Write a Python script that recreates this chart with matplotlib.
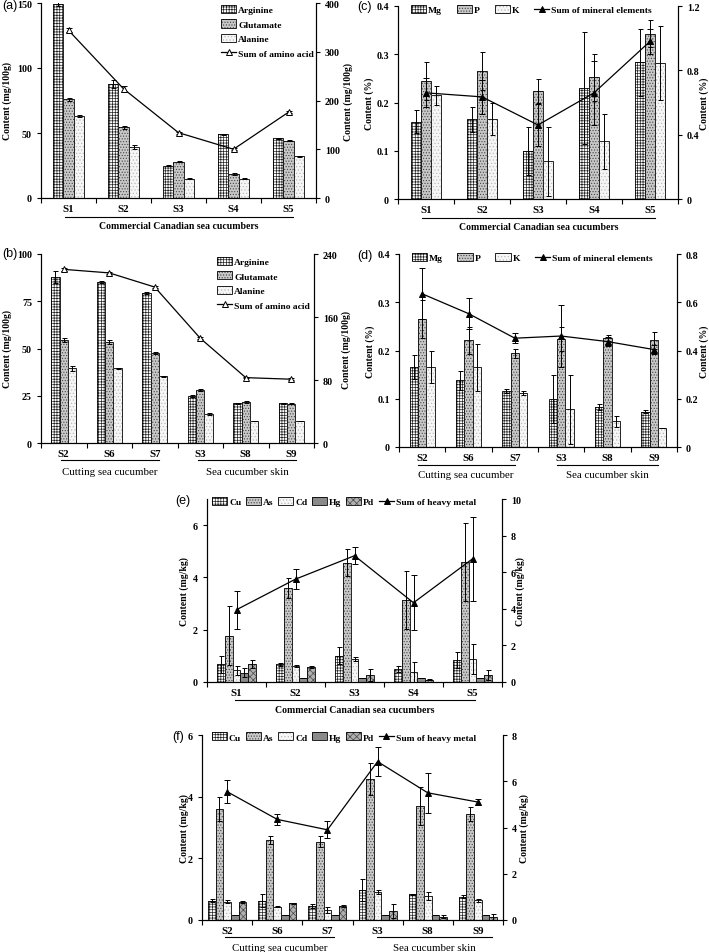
import matplotlib
matplotlib.use("Agg")
import matplotlib.pyplot as plt
from matplotlib.patches import Patch
from matplotlib.lines import Line2D
from matplotlib.legend_handler import HandlerTuple
import numpy as np

plt.rcParams['font.family'] = ['Liberation Serif', 'DejaVu Serif']
plt.rcParams['font.weight'] = 'bold'
plt.rcParams['axes.labelweight'] = 'bold'
plt.rcParams['hatch.linewidth'] = 0.5
plt.rcParams['font.size'] = 7.2

# ---- data: amino acids (mg/100g) ----
samples_a = ['S1', 'S2', 'S3', 'S4', 'S5']
arg_a = [149, 87.5, 25, 49, 46]
arg_a_err = [1.5, 3.2, 0.6, 0.6, 0.3]
glu_a = [76, 54.5, 28, 18.5, 44]
glu_a_err = [1.0, 1.2, 0.4, 0.5, 0.5]
ala_a = [63, 39.5, 15, 15, 32]
ala_a_err = [1.0, 1.5, 0.4, 0.3, 0.2]
sum_a = [344, 224, 134, 100, 176]
sum_a_err = [4, 6, 2, 2, 2]

samples_b = ['S2', 'S6', 'S7', 'S3', 'S8', 'S9']
arg_b = [87.7, 85.2, 79.6, 25, 21, 21]
arg_b_err = [3.2, 0.5, 0.5, 0.6, 0.3, 0.2]
glu_b = [54.5, 53.5, 47.5, 28, 21.5, 20.8]
glu_b_err = [1.1, 1.2, 0.4, 0.4, 0.5, 0.2]
ala_b = [39.5, 39.5, 35.2, 15.3, 11.8, 11.5]
ala_b_err = [1.5, 0.3, 0.2, 0.4, 0.1, 0.1]
sum_b = [220.5, 216, 198, 133, 83, 81]
sum_b_err = [1.5, 1.5, 1, 1, 1, 1]

# ---- data: minerals (%) ----
mg_c = [0.16, 0.165, 0.1, 0.23, 0.283]
mg_c_err = [0.024, 0.026, 0.05, 0.117, 0.07]
p_c = [0.245, 0.265, 0.223, 0.252, 0.342]
p_c_err = [0.039, 0.039, 0.025, 0.048, 0.028]
k_c = [0.215, 0.165, 0.078, 0.12, 0.282]
k_c_err = [0.02, 0.033, 0.072, 0.057, 0.076]
sum_c = [0.66, 0.635, 0.46, 0.66, 0.98]
sum_c_err = [0.09, 0.105, 0.13, 0.2, 0.08]

mg_d = [0.165, 0.138, 0.116, 0.1, 0.083, 0.073]
mg_d_err = [0.025, 0.02, 0.004, 0.05, 0.007, 0.003]
p_d = [0.265, 0.221, 0.194, 0.223, 0.226, 0.221]
p_d_err = [0.04, 0.028, 0.01, 0.025, 0.006, 0.017]
k_d = [0.165, 0.165, 0.112, 0.078, 0.053, 0.039]
k_d_err = [0.033, 0.048, 0.004, 0.072, 0.011, 0.0]
sum_d = [0.635, 0.553, 0.451, 0.46, 0.437, 0.404]
sum_d_err = [0.105, 0.065, 0.02, 0.13, 0.02, 0.02]

# ---- data: heavy metals (mg/kg) ----
cu_e = [0.67, 0.67, 1.0, 0.5, 0.83]
cu_e_err = [0.34, 0.05, 0.33, 0.1, 0.3]
as_e = [1.77, 3.6, 4.57, 3.14, 4.58]
as_e_err = [1.13, 0.38, 0.53, 1.1, 1.5]
cd_e = [0.44, 0.6, 0.88, 0.38, 0.88]
cd_e_err = [0.17, 0.04, 0.07, 0.39, 0.58]
hg_e = [0.35, 0.17, 0.16, 0.15, 0.15]
hg_e_err = [0.17, 0.0, 0.0, 0.0, 0.0]
pd_e = [0.69, 0.58, 0.28, 0.08, 0.27]
pd_e_err = [0.17, 0.03, 0.23, 0.02, 0.2]
sum_e = [3.95, 5.62, 6.9, 4.33, 6.73]
sum_e_err = [1.05, 0.55, 0.45, 1.5, 2.3]

cu_f = [0.63, 0.63, 0.45, 0.98, 0.83, 0.76]
cu_f_err = [0.05, 0.22, 0.07, 0.35, 0.02, 0.04]
as_f = [3.6, 2.6, 2.54, 4.57, 3.7, 3.43]
as_f_err = [0.4, 0.13, 0.17, 0.53, 0.62, 0.22]
cd_f = [0.6, 0.43, 0.33, 0.9, 0.77, 0.64]
cd_f_err = [0.05, 0.02, 0.1, 0.07, 0.13, 0.04]
hg_f = [0.17, 0.17, 0.17, 0.16, 0.15, 0.15]
hg_f_err = [0, 0, 0, 0, 0, 0]
pd_f = [0.58, 0.54, 0.46, 0.28, 0.1, 0.1]
pd_f_err = [0.03, 0.02, 0.03, 0.23, 0.05, 0.1]
sum_f = [5.55, 4.35, 3.9, 6.85, 5.5, 5.1]
sum_f_err = [0.5, 0.25, 0.36, 0.63, 0.87, 0.12]

GRID = dict(face='white', hatch='++++++', hc='#222222')
DOTS = dict(face='#c8c8c8', hatch='......', hc='#444444')
LIGHT = dict(face='#f6f6f6', hatch='.....', hc='#bbbbbb')
SOLID = dict(face='#8a8a8a', hatch=None, hc='#8a8a8a')
CHECK = dict(face='#b0b0b0', hatch='xxxxx', hc='#4a4a4a')

W, H = 709, 953
fig = plt.figure(figsize=(W / 100, H / 100), dpi=100)


def add_ax(l, t, r, b):
    ax = fig.add_axes([l / W, 1 - b / H, (r - l) / W, (b - t) / H])
    ax2 = ax.twinx()
    return ax, ax2


def draw_bars(ax, series, errs, styles, group):
    n = len(series)
    x = np.arange(len(series[0]))
    w = group / n
    for i in range(n):
        s = styles[i]
        xs = x + (i - (n - 1) / 2) * w
        ax.bar(xs, series[i], w, color=s['face'], hatch=s['hatch'],
               edgecolor=s['hc'], linewidth=0)
        ax.bar(xs, series[i], w, fill=False, edgecolor='k', linewidth=0.6)
        ax.errorbar(xs, series[i], yerr=errs[i], fmt='none', ecolor='k',
                    elinewidth=0.7, capsize=1.8, capthick=0.7)


def draw_sum(ax2, vals, errs, open_marker):
    x = np.arange(len(vals))
    ax2.errorbar(x, vals, yerr=errs, color='k', lw=0.9, marker='^',
                 ms=4 if open_marker else 5, mfc='white' if open_marker else 'k',
                 mec='k', mew=0.7, ecolor='k', elinewidth=0.7, capsize=2, capthick=0.7)


def handles(styles, names, sum_name, open_marker):
    hs = []
    for s in styles:
        hs.append((Patch(facecolor=s['face'], hatch=s['hatch'], edgecolor=s['hc'], lw=0),
                   Patch(fill=False, edgecolor='k', lw=0.6)))
    hs.append(Line2D([], [], color='k', lw=0.9, marker='^', ms=4 if open_marker else 5,
                     mfc='white' if open_marker else 'k', mec='k', mew=0.7))
    return hs, list(names) + [sum_name]


def setup(ax, ax2, labels, ylim, yt, ytl, ylim2, yt2, ytl2, ylabel, lx, rx):
    n = len(labels)
    ax.set_xlim(-0.5, n - 0.5)
    ax.set_xticks(np.arange(n + 1) - 0.5)
    ax.set_xticklabels([''] * (n + 1))
    ax.set_xticks(np.arange(n), minor=True)
    ax.set_xticklabels(labels, minor=True, fontsize=7.8)
    ax.tick_params(axis='x', which='minor', length=0, pad=4)
    ax.tick_params(axis='x', which='major', direction='out', length=3.5, width=0.8)
    ax.set_ylim(ylim)
    ax.set_yticks(yt)
    ax.set_yticklabels(ytl)
    ax2.set_ylim(ylim2)
    ax2.set_yticks(yt2)
    ax2.set_yticklabels(ytl2)
    for a in (ax, ax2):
        a.tick_params(axis='y', direction='out', length=3, width=0.8, labelsize=7.2)
        a.spines['top'].set_visible(False)
        for sp in ('left', 'right', 'bottom'):
            a.spines[sp].set_linewidth(0.8)
    ax.set_ylabel(ylabel, fontsize=7)
    ax2.set_ylabel(ylabel, fontsize=7)
    ax.yaxis.set_label_coords(lx, 0.5)
    ax2.yaxis.set_label_coords(rx, 0.5)


def group_label(ax, x0, x1, yline, ytext, text, bold):
    tr = ax.get_xaxis_transform()
    ax.plot([x0, x1], [yline, yline], color='k', lw=0.8, transform=tr, clip_on=False)
    ax.text((x0 + x1) / 2, ytext, text, transform=tr, ha='center', va='center',
            fontsize=7.8 if not bold else 7.0, fontweight='bold' if bold else 'normal')


def legend(ax2, hs, ls, anchor, ncol, colsp):
    ax2.legend(hs, ls, handler_map={tuple: HandlerTuple(ndivide=1, pad=0)},
               loc='upper left', bbox_to_anchor=anchor, ncol=ncol, frameon=False,
               fontsize=6.8, handlelength=1.6, handleheight=0.95, handletextpad=0.2,
               labelspacing=0.55, columnspacing=colsp, borderpad=0, borderaxespad=0)


def panel(x, y, s):
    fig.text(x / W, 1 - y / H, s, family='Liberation Sans', fontweight='normal',
             fontsize=9, va='center', ha='left')


# ---- (a) ----
ax, ax2 = add_ax(41, 4, 316, 199)
draw_bars(ax, [arg_a, glu_a, ala_a], [arg_a_err, glu_a_err, ala_a_err],
          [GRID, DOTS, LIGHT], 0.55)
draw_sum(ax2, sum_a, sum_a_err, True)
setup(ax, ax2, samples_a, (0, 150), [0, 50, 100, 150], ['0', '50', '100', '150'],
      (0, 400), [0, 100, 200, 300, 400], ['0', '100', '200', '300', '400'],
      'Content (mg/100g)', -0.105, 1.10)
hs, ls = handles([GRID, DOTS, LIGHT], ['Arginine', 'Glutamate', 'Alanine'],
                 'Sum of amino acid', True)
legend(ax2, hs, ls, (0.655, 0.99), 1, 1)
group_label(ax, -0.06, 4.08, -0.097, -0.143, 'Commercial Canadian sea cucumbers', True)
panel(2, 6, '(a)')

# ---- (c) ----
ax, ax2 = add_ax(398, 7, 678, 200)
draw_bars(ax, [mg_c, p_c, k_c], [mg_c_err, p_c_err, k_c_err], [GRID, DOTS, LIGHT], 0.54)
draw_sum(ax2, sum_c, sum_c_err, False)
setup(ax, ax2, samples_a, (0, 0.4), [0, 0.1, 0.2, 0.3, 0.4],
      ['0', '0.1', '0.2', '0.3', '0.4'],
      (0, 1.2), [0, 0.4, 0.8, 1.2], ['0', '0.4', '0.8', '1.2'],
      'Content (%)', -0.086, 1.075)
hs, ls = handles([GRID, DOTS, LIGHT], ['Mg', 'P', 'K'], 'Sum of mineral elements', False)
legend(ax2, hs, ls, (0.045, 1.005), 4, 1.6)
group_label(ax, -0.07, 4.09, -0.098, -0.14, 'Commercial Canadian sea cucumbers', True)
panel(357, 7, '(c)')

# ---- (b) ----
ax, ax2 = add_ax(41, 255, 314, 444)
draw_bars(ax, [arg_b, glu_b, ala_b], [arg_b_err, glu_b_err, ala_b_err],
          [GRID, DOTS, LIGHT], 0.55)
draw_sum(ax2, sum_b, sum_b_err, True)
setup(ax, ax2, samples_b, (0, 100), [0, 25, 50, 75, 100], ['0', '25', '50', '75', '100'],
      (0, 240), [0, 80, 160, 240], ['0', '80', '160', '240'],
      'Content (mg/100g)', -0.105, 1.099)
hs, ls = handles([GRID, DOTS, LIGHT], ['Arginine', 'Glutamate', 'Alanine'],
                 'Sum of amino acid', True)
legend(ax2, hs, ls, (0.645, 0.985), 1, 1)
group_label(ax, -0.06, 2.09, -0.09, -0.15, 'Cutting sea cucumber', False)
group_label(ax, 2.95, 5.1, -0.09, -0.15, 'Sea cucumber skin', False)
panel(2, 254, '(b)')

# ---- (d) ----
ax, ax2 = add_ax(399, 255, 677, 448)
draw_bars(ax, [mg_d, p_d, k_d], [mg_d_err, p_d_err, k_d_err], [GRID, DOTS, LIGHT], 0.54)
draw_sum(ax2, sum_d, sum_d_err, False)
setup(ax, ax2, samples_b, (0, 0.4), [0, 0.1, 0.2, 0.3, 0.4],
      ['0', '0.1', '0.2', '0.3', '0.4'],
      (0, 0.8), [0, 0.2, 0.4, 0.6, 0.8], ['0', '0.2', '0.4', '0.6', '0.8'],
      'Content (%)', -0.086, 1.079)
hs, ls = handles([GRID, DOTS, LIGHT], ['Mg', 'P', 'K'], 'Sum of mineral elements', False)
legend(ax2, hs, ls, (0.045, 1.005), 4, 1.6)
group_label(ax, -0.1, 2.0, -0.093, -0.145, 'Cutting sea cucumber', False)
group_label(ax, 2.9, 5.1, -0.093, -0.145, 'Sea cucumber skin', False)
panel(357, 256, '(d)')

metal_styles = [GRID, DOTS, LIGHT, SOLID, CHECK]
metal_names = ['Cu', 'As', 'Cd', 'Hg', 'Pd']

# ---- (e) ----
ax, ax2 = add_ax(207, 500, 502, 683)
draw_bars(ax, [cu_e, as_e, cd_e, hg_e, pd_e],
          [cu_e_err, as_e_err, cd_e_err, hg_e_err, pd_e_err], metal_styles, 0.65)
draw_sum(ax2, sum_e, sum_e_err, False)
setup(ax, ax2, samples_a, (0, 7), [0, 2, 4, 6], ['0', '2', '4', '6'],
      (0, 10), [0, 2, 4, 6, 8, 10], ['0', '2', '4', '6', '8', '10'],
      'Content (mg/kg)', -0.061, 1.047)
hs, ls = handles(metal_styles, metal_names, 'Sum of heavy metal', False)
legend(ax2, hs, ls, (0.017, 1.01), 6, 0.5)
group_label(ax, -0.03, 4.04, -0.098, -0.148, 'Commercial Canadian sea cucumbers', True)
panel(175, 501, '(e)')

# ---- (f) ----
ax, ax2 = add_ax(202, 736, 503, 921)
draw_bars(ax, [cu_f, as_f, cd_f, hg_f, pd_f],
          [cu_f_err, as_f_err, cd_f_err, hg_f_err, pd_f_err], metal_styles, 0.76)
draw_sum(ax2, sum_f, sum_f_err, False)
setup(ax, ax2, samples_b, (0, 6), [0, 2, 4, 6], ['0', '2', '4', '6'],
      (0, 8), [0, 2, 4, 6, 8], ['0', '2', '4', '6', '8'],
      'Content (mg/kg)', -0.043, 1.053)
hs, ls = handles(metal_styles, metal_names, 'Sum of heavy metal', False)
legend(ax2, hs, ls, (0.033, 1.015), 6, 0.5)
group_label(ax, -0.04, 2.13, -0.092, -0.146, 'Cutting sea cucumber', False)
group_label(ax, 2.99, 5.28, -0.092, -0.146, 'Sea cucumber skin', False)
panel(172, 737, '(f)')

fig.savefig('out.png', dpi=100)
